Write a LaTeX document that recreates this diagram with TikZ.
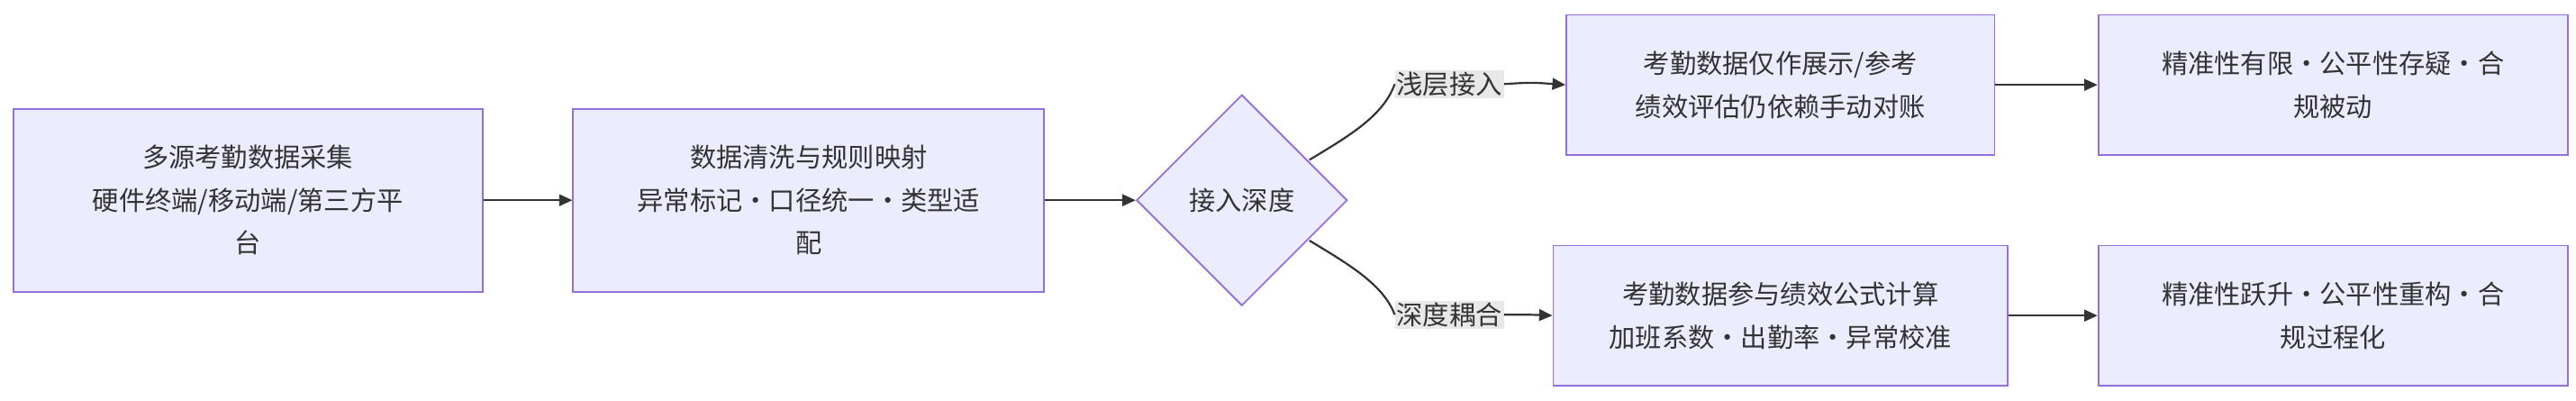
\documentclass[tikz,border=0pt]{standalone}
\usepackage{fontspec}
\setmainfont{Noto Sans CJK SC}
\usetikzlibrary{shapes.geometric,arrows.meta}
\definecolor{boxfill}{HTML}{ECECFF}
\definecolor{boxline}{HTML}{9370DB}
\definecolor{txt}{HTML}{333333}
\definecolor{lblbg}{HTML}{E8E8E8}
\begin{document}
\begin{tikzpicture}[x=1pt,y=-1pt,
  box/.style={draw=boxline,fill=boxfill,line width=1pt,align=center,text=txt,font=\fontsize{16}{26}\selectfont,inner sep=0pt},
  dia/.style={diamond,draw=boxline,fill=boxfill,line width=1pt,text=txt,font=\fontsize{16}{26}\selectfont,minimum width=128pt,minimum height=128pt,inner sep=0pt},
  lbl/.style={fill=lblbg,text=txt,font=\fontsize{16}{20}\selectfont,inner sep=1pt},
  arr/.style={draw=txt,line width=1.2pt,-{Triangle[length=8pt,width=7pt]}},
  ln/.style={draw=txt,line width=1.2pt}]
\useasboundingbox (0,0) rectangle (1564,243);
\node[box,minimum width=285pt,minimum height=111pt] (a) at (150.5,121.5) {多源考勤数据采集\\硬件终端/移动端/第三方平\\台};
\node[box,minimum width=286pt,minimum height=111pt] (b) at (491,121.5) {数据清洗与规则映射\\异常标记·口径统一·类型适\\配};
\node[dia] (c) at (754,121.5) {接入深度};
\node[box,minimum width=260pt,minimum height=85pt] (d) at (1081,51.5) {考勤数据仅作展示/参考\\绩效评估仍依赖手动对账};
\node[box,minimum width=285pt,minimum height=85pt] (e) at (1416.5,51.5) {精准性有限·公平性存疑·合\\规被动};
\node[box,minimum width=276pt,minimum height=85pt] (f) at (1081,191.5) {考勤数据参与绩效公式计算\\加班系数·出勤率·异常校准};
\node[box,minimum width=285pt,minimum height=85pt] (g) at (1416.5,191.5) {精准性跃升·公平性重构·合\\规过程化};
\node[lbl] (l1) at (880,51) {浅层接入};
\node[lbl] (l2) at (880,191) {深度耦合};
\draw[arr] (a) -- (b);
\draw[arr] (b) -- (c);
\draw[ln] (795,97) .. controls (820,82) and (840,70) .. (l1.west);
\draw[arr] (l1.east) .. controls (930,50) .. (d.west);
\draw[ln] (795,146) .. controls (820,161) and (840,173) .. (l2.west);
\draw[arr] (l2.east) .. controls (930,191) .. (f.west);
\draw[arr] (d) -- (e);
\draw[arr] (f) -- (g);
\end{tikzpicture}
\end{document}
